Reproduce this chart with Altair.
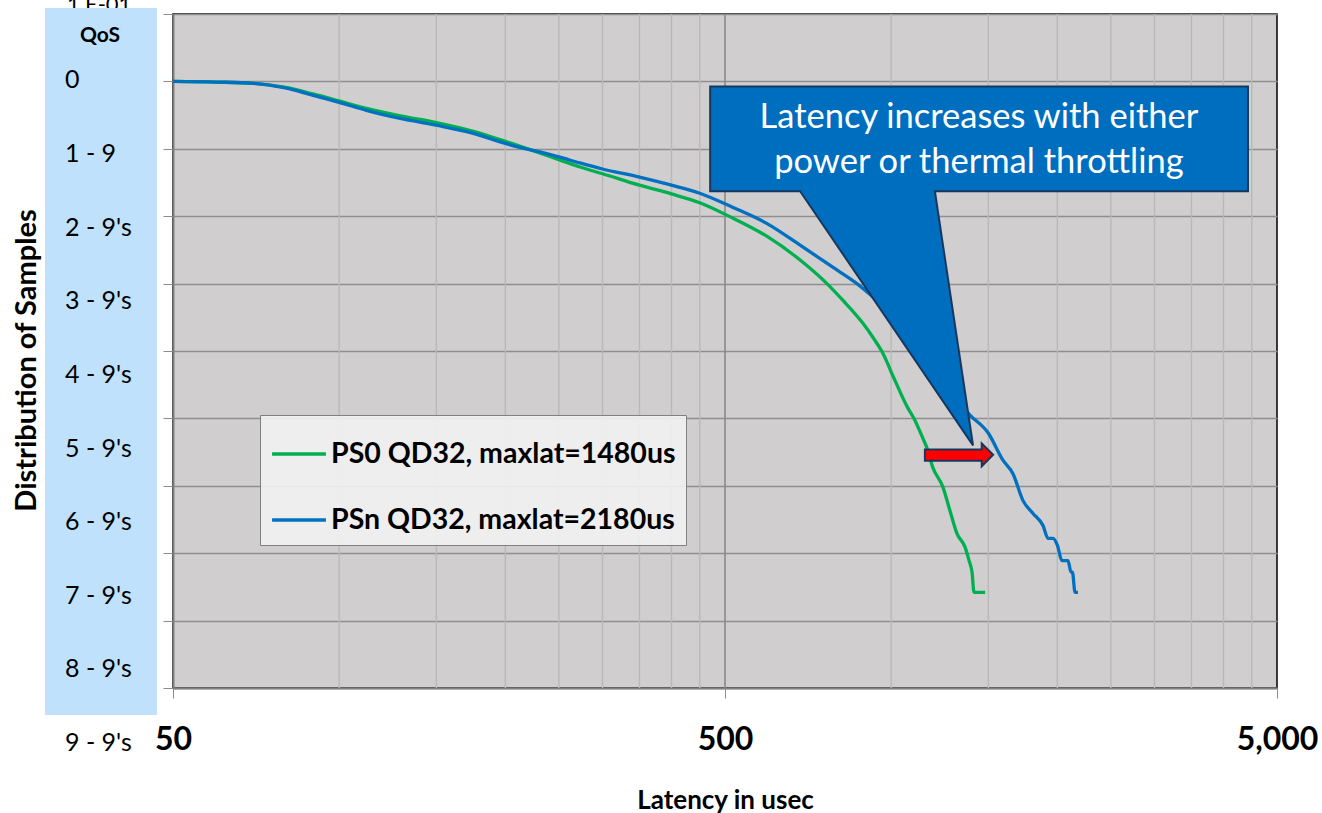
import altair as alt
import pandas as pd

# ---------------- data ----------------
SERIES = ["PS0 QD32, maxlat=1480us", "PSn QD32, maxlat=2180us"]
COLORS = ["#00B050", "#0070C0"]

ps0_lat = [50, 60, 70, 80, 90, 100, 112, 129, 150, 175, 200, 250, 273, 300, 350, 400, 450,
           517, 596, 684, 765, 818, 889, 927, 967, 1010, 1071, 1100, 1142, 1160, 1190, 1241,
           1278, 1316, 1361, 1384, 1401, 1413, 1480]
ps0_nines = [0.0, 0.01, 0.03, 0.09, 0.19, 0.29, 0.40, 0.51, 0.61, 0.74, 0.89, 1.16, 1.27, 1.37,
             1.54, 1.67, 1.80, 2.03, 2.30, 2.65, 3.00, 3.25, 3.59, 3.80, 4.04, 4.39, 4.84, 5.00,
             5.30, 5.43, 5.73, 6.02, 6.37, 6.71, 6.91, 7.11, 7.28, 7.58, 7.58]

psn_lat = [50, 60, 70, 79, 90, 100, 112, 129, 150, 175, 200, 250, 273, 300, 350, 400, 450,
           517, 596, 684, 785, 867, 955, 1050, 1151, 1260, 1389, 1500, 1594, 1662, 1733,
           1807, 1884, 1924, 1965, 2000, 2039, 2091, 2117, 2130, 2153, 2180]
psn_nines = [0.0, 0.01, 0.03, 0.09, 0.21, 0.31, 0.43, 0.55, 0.65, 0.77, 0.92, 1.12, 1.21, 1.30,
             1.42, 1.54, 1.66, 1.87, 2.11, 2.43, 2.76, 3.00, 3.30, 3.70, 4.12, 4.53, 4.95,
             5.22, 5.62, 5.82, 6.22, 6.41, 6.59, 6.78, 6.78, 6.88, 7.11, 7.11, 7.28, 7.28, 7.58,
             7.58]

# QoS label column (positions in "nines")
qos_labels = ["0", "1 - 9", "2 - 9's", "3 - 9's", "4 - 9's", "5 - 9's", "6 - 9's",
              "7 - 9's", "8 - 9's", "9 - 9's"]
qos_pos = [-0.02, 1.07, 2.18, 3.26, 4.35, 5.45, 6.54, 7.63, 8.72, 9.81]

x_tick_values = [50, 500, 5000]
x_minor_grid = [100, 150, 200, 250, 300, 350, 400, 450,
                1000, 1500, 2000, 2500, 3000, 3500, 4000, 4500]
x_major_grid = [500]
y_grid = list(range(-1, 10))

# callout shape (latency / nines)
callout_y = [0.074, 1.6299, 1.63, 5.40]
callout_left = [470, 470, 684, 1407]
callout_right = [4430, 4430, 1200, 1407]
callout_text = ["Latency increases with either", "power or thermal throttling"]
callout_text_pos = [0.55, 1.21]
callout_text_x = 1442

# red arrow (latency / nines)
arrow_x = [1151, 1458.9, 1459, 1530]
arrow_top = [5.46, 5.46, 5.37, 5.54]
arrow_bot = [5.63, 5.63, 5.71, 5.54]

FONT = "Lato"

# ---------------- tables ----------------
lines_df = pd.DataFrame({
    "latency": ps0_lat + psn_lat,
    "nines": ps0_nines + psn_nines,
    "series": [SERIES[0]] * len(ps0_lat) + [SERIES[1]] * len(psn_lat),
})
qos_df = pd.DataFrame({"label": qos_labels, "pos": qos_pos})
minor_df = pd.DataFrame({"v": x_minor_grid})
major_df = pd.DataFrame({"v": x_major_grid})
callout_df = pd.DataFrame({"y": callout_y, "xl": callout_left, "xr": callout_right})
ctext_df = pd.DataFrame({"t": callout_text, "pos": callout_text_pos,
                         "x": [callout_text_x] * len(callout_text)})
arrow_df = pd.DataFrame({"x": arrow_x, "yt": arrow_top, "yb": arrow_bot})

xscale = alt.Scale(type="log", domain=[50, 5000], nice=False)
yscale = alt.Scale(domain=[-1, 9], reverse=True, nice=False, zero=False)

x_axis = alt.Axis(values=x_tick_values, format=",", grid=False, ticks=True, tickSize=10,
                  tickColor="#8c8c8c", domainColor="#808080", domainWidth=2,
                  labelFont=FONT, labelFontSize=32, labelFontWeight="bold", labelColor="#000",
                  labelPadding=26, labelFlush=False, labelOverlap=False,
                  title="Latency in usec", titleFont=FONT, titleFontSize=26,
                  titleFontWeight="bold", titleColor="#000", titleY=112,
                  titleBaseline="middle")
y_axis = alt.Axis(values=y_grid, labels=False, ticks=True, tickSize=10, tickColor="#8c8c8c",
                  domainColor="#7f7f7f", domainWidth=2, grid=True, gridColor="#8f8f8f",
                  gridWidth=1.6, title="Distribution of Samples", titleFont=FONT,
                  titleFontSize=29, titleFontWeight="bold", titleColor="#000",
                  titleAngle=270, titleX=-147, titleY=346, titleAlign="center",
                  titleBaseline="middle")

color = alt.Color("series:N",
                  scale=alt.Scale(domain=SERIES, range=COLORS),
                  legend=alt.Legend(title=None, orient="none", legendX=87, legendY=401,
                                    fillColor="rgba(242,242,242,0.9)", strokeColor="#808080",
                                    padding=10, symbolType="stroke", symbolStrokeWidth=3.5,
                                    symbolSize=2900, rowPadding=22, labelOffset=3,
                                    labelFont=FONT, labelFontSize=28.5,
                                    labelFontWeight="bold", labelColor="#000",
                                    labelLimit=600))

base = alt.Chart(lines_df)

minor = alt.Chart(minor_df).mark_rule(color="#b9b9b9", strokeWidth=1.4).encode(
    x=alt.X("v:Q", scale=xscale, axis=x_axis))
major = alt.Chart(major_df).mark_rule(color="#8a8a8a", strokeWidth=1.6).encode(
    x=alt.X("v:Q", scale=xscale))

green = base.transform_filter(alt.datum.series == SERIES[0]).mark_line(
    strokeWidth=3.3, interpolate="monotone").encode(
    x=alt.X("latency:Q", scale=xscale),
    y=alt.Y("nines:Q", scale=yscale, axis=y_axis),
    color=color)
blue = base.transform_filter(alt.datum.series == SERIES[1]).mark_line(
    strokeWidth=3.3, interpolate="monotone").encode(
    x=alt.X("latency:Q", scale=xscale),
    y=alt.Y("nines:Q", scale=yscale),
    color=color)

callout = alt.Chart(callout_df).mark_area(
    orient="horizontal", color="#006EBF", stroke="#17375E", strokeWidth=2,
    interpolate="linear", opacity=1).encode(
    y=alt.Y("y:Q", scale=yscale),
    x=alt.X("xl:Q", scale=xscale),
    x2="xr:Q")
ctext = alt.Chart(ctext_df).mark_text(
    font=FONT, fontSize=34.5, color="white", align="center", baseline="middle").encode(
    x=alt.X("x:Q", scale=xscale), y=alt.Y("pos:Q", scale=yscale), text="t:N")

arrow = alt.Chart(arrow_df).mark_area(
    color="#FF0000", stroke="#17375E", strokeWidth=2, interpolate="linear", opacity=1).encode(
    x=alt.X("x:Q", scale=xscale),
    y=alt.Y("yt:Q", scale=yscale),
    y2="yb:Q")

# left QoS label column
hidden_top = alt.Chart(pd.DataFrame({"t": ["1.E-01"]})).mark_text(
    font=FONT, fontSize=22, align="left", baseline="alphabetic", color="#000").encode(
    x=alt.value(-106), y=alt.value(-2), text="t:N")
column_bg = alt.Chart(pd.DataFrame({"a": [0]})).mark_rect(color="#BFE1FB").encode(
    x=alt.value(-128), x2=alt.value(-16), y=alt.value(-6), y2=alt.value(701))
qos_head = alt.Chart(pd.DataFrame({"t": ["QoS"], "pos": [-0.68]})).mark_text(
    font=FONT, fontSize=21, fontWeight="bold", align="center", baseline="middle",
    color="#000").encode(x=alt.value(-73), y=alt.Y("pos:Q", scale=yscale), text="t:N")
qos_text = alt.Chart(qos_df).mark_text(
    font=FONT, fontSize=25, align="left", baseline="middle", color="#000").encode(
    x=alt.value(-108), y=alt.Y("pos:Q", scale=yscale), text="label:N")

chart = alt.layer(
    minor, major, green, blue, callout, ctext, arrow,
    hidden_top, column_bg, qos_head, qos_text
).properties(
    width=1104, height=674,
    autosize=alt.AutoSizeParams(type="none"),
    padding={"left": 173, "top": 14, "right": 45, "bottom": 125},
    background="white",
).configure_view(
    fill="#D0CECF", stroke="#000000", strokeWidth=1.5
)

chart.save("out.html", embed_options={"renderer": "svg", "actions": False})
